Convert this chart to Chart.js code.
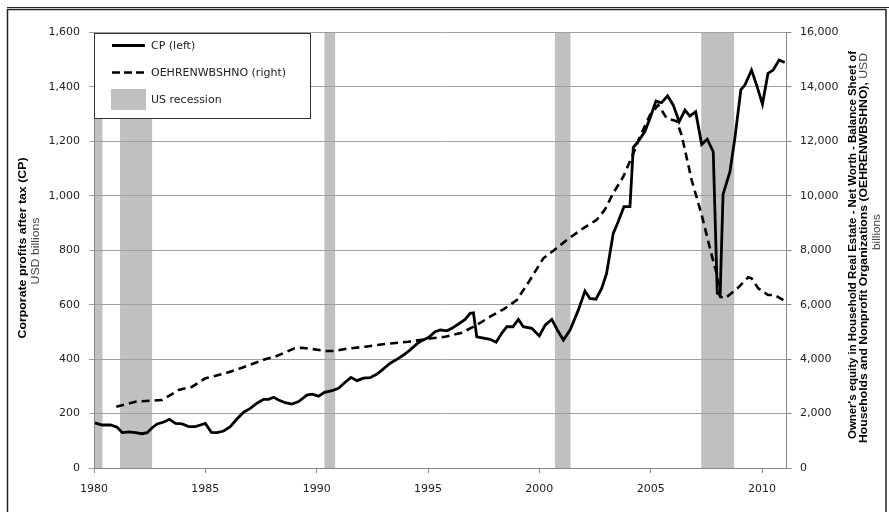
<!DOCTYPE html>
<html>
<head>
<meta charset="utf-8">
<script src="https://cdn.jsdelivr.net/npm/chart.js@4.4.1/dist/chart.umd.min.js"></script>
<style>
	html, body { margin: 0; padding: 0; background: #fff; }
</style>
</head>
<body>
<canvas id="myChart" width="889" height="512"></canvas>
<script>
// CP (left axis), USD billions, roughly quarterly
var cpYears = [1980.04, 1980.37, 1980.74, 1981.04, 1981.27, 1981.56, 1981.86, 1982.16, 1982.39, 1982.61, 1982.84,
	1983.13, 1983.39, 1983.66, 1983.96, 1984.25, 1984.55, 1984.78, 1985.0, 1985.27, 1985.53, 1985.82, 1986.12, 1986.42,
	1986.72, 1987.02, 1987.32, 1987.62, 1987.84, 1988.07, 1988.29, 1988.59, 1988.89, 1989.19, 1989.56, 1989.79, 1990.09,
	1990.35, 1990.69, 1990.98, 1991.28, 1991.54, 1991.81, 1992.1, 1992.4, 1992.71, 1993.0, 1993.3, 1993.6, 1993.9, 1994.2,
	1994.5, 1994.72, 1995.02, 1995.32, 1995.55, 1995.85, 1996.07, 1996.37, 1996.67, 1996.89, 1997.04, 1997.19, 1997.56,
	1997.79, 1998.06, 1998.31, 1998.54, 1998.81, 1999.06, 1999.28, 1999.66, 2000.0, 2000.26, 2000.56, 2000.81, 2001.08,
	2001.38, 2001.75, 2002.05, 2002.27, 2002.54, 2002.8, 2003.02, 2003.32, 2003.54, 2003.8, 2004.07, 2004.22, 2004.44,
	2004.74, 2004.97, 2005.24, 2005.49, 2005.76, 2006.01, 2006.28, 2006.54, 2006.76, 2007.02, 2007.29, 2007.54, 2007.81,
	2007.99, 2008.12, 2008.25, 2008.56, 2008.78, 2009.05, 2009.23, 2009.53, 2009.78, 2010.02, 2010.27, 2010.5, 2010.77,
	2011.02];
var cpValues = [166, 158, 158, 150, 130, 133, 130, 126, 130, 148, 162, 169, 179, 164, 162, 152, 152, 158, 164, 131, 130,
	136, 152, 180, 205, 219, 238, 252, 252, 260, 250, 240, 235, 244, 268, 271, 264, 278, 284, 293, 315, 333, 321, 330, 332,
	345, 364, 385, 399, 415, 434, 456, 468, 479, 501, 507, 504, 513, 529, 546, 568, 570, 482, 476, 473, 462, 495, 519, 519,
	546, 519, 513, 485, 525, 546, 507, 470, 507, 580, 650, 623, 620, 660, 715, 862, 905, 960, 960, 1178, 1200, 1236, 1285,
	1348, 1342, 1367, 1334, 1272, 1315, 1293, 1309, 1189, 1208, 1162, 642, 636, 1005, 1089, 1211, 1389, 1407, 1462, 1401,
	1337, 1450, 1462, 1499, 1490];

// OEHRENWBSHNO (right axis)
var oeYears = [1981.0, 1981.86, 1983.06, 1983.8, 1984.41, 1985.0, 1985.9, 1986.65, 1987.69, 1988.14, 1989.01, 1989.34,
	1989.79, 1990.39, 1990.83, 1991.28, 1992.18, 1993.08, 1994.12, 1995.17, 1995.77, 1996.52, 1997.19, 1997.79, 1998.39,
	1998.99, 1999.58, 2000.18, 2000.63, 2001.23, 2001.97, 2002.57, 2002.95, 2003.32, 2003.77, 2004.22, 2004.52, 2004.97,
	2005.34, 2005.72, 2006.16, 2006.39, 2006.84, 2007.29, 2007.73, 2007.96, 2008.12, 2008.34, 2008.86, 2009.38, 2009.53,
	2009.83, 2010.27, 2010.57, 2011.02];
var oeValues = [2252, 2436, 2498, 2866, 2987, 3295, 3479, 3685, 3994, 4090, 4398, 4420, 4372, 4298, 4298, 4372, 4457,
	4556, 4640, 4765, 4824, 4971, 5254, 5559, 5831, 6172, 6907, 7704, 7984, 8377, 8806, 9113, 9500, 10100, 10700, 11550,
	12172, 12969, 13337, 12848, 12750, 12234, 10581, 9300, 7850, 7153, 6294, 6235, 6570, 7006, 6970, 6602, 6356, 6356, 6135];

// US recession bands
var recessionStart = [1980.0, 1981.17, 1990.35, 2000.7, 2007.27];
var recessionEnd = [1980.38, 1982.61, 1990.83, 2001.4, 2008.75];

var xTickYears = [1980, 1985, 1990, 1995, 2000, 2005, 2010];

var tickFont = { family: "DejaVu Sans", size: 11 };
var bandColor = "#c0c0c0";

// shaded recessions, under the grid lines
var recessionPlugin = {
	id: "recessions",
	beforeDraw: function (chart) {
		const ctx = chart.ctx;
		const area = chart.chartArea;
		const x = chart.scales.x;
		ctx.save();
		ctx.fillStyle = bandColor;
		recessionStart.forEach((s, i) => {
			const x0 = x.getPixelForValue(s);
			const x1 = x.getPixelForValue(recessionEnd[i]);
			ctx.fillRect(x0, area.top, x1 - x0, area.bottom - area.top);
		});
		ctx.restore();
	},
};

function drawRotated(ctx, cx, cy, parts, width) {
	ctx.save();
	let total = 0;
	parts.forEach((p) => {
		ctx.font = p.font;
		p.w = ctx.measureText(p.text).width;
		total += p.w;
	});
	ctx.translate(cx, cy);
	ctx.rotate(-Math.PI / 2);
	ctx.scale(width / total, 1);
	ctx.textBaseline = "middle";
	ctx.textAlign = "left";
	let pos = -total / 2;
	parts.forEach((p) => {
		ctx.font = p.font;
		ctx.fillStyle = p.color;
		ctx.fillText(p.text, pos, 0);
		pos += p.w;
	});
	ctx.restore();
}

// legend box, axis titles, frame
var decorPlugin = {
	id: "decor",
	afterDraw: function (chart) {
		const ctx = chart.ctx;
		const bold = "bold 11px 'Liberation Sans'";
		const normal = "11px 'Liberation Sans'";

		// axis titles
		drawRotated(ctx, 22.5, 248, [{ text: "Corporate profits after tax (CP)", font: bold, color: "#000" }], 181);
		drawRotated(ctx, 36, 251, [{ text: "USD billions", font: normal, color: "#444" }], 67);
		drawRotated(ctx, 852.5, 245,
			[{ text: "Owner's equity in Household Real Estate - Net Worth - Balance Sheet of", font: bold, color: "#000" }], 388);
		drawRotated(ctx, 863.5, 248, [
			{ text: "Households and Nonprofit Organizations (OEHRENWBSHNO),", font: bold, color: "#000" },
			{ text: " USD", font: normal, color: "#444" },
		], 390);
		drawRotated(ctx, 877, 232, [{ text: "billions", font: normal, color: "#444" }], 36);

		// legend
		ctx.save();
		ctx.fillStyle = "#fff";
		ctx.fillRect(94, 33, 216, 85);
		ctx.strokeStyle = "#333";
		ctx.lineWidth = 1;
		ctx.strokeRect(94.5, 33.5, 216, 85);

		ctx.strokeStyle = "#000";
		ctx.lineWidth = 3;
		ctx.beginPath();
		ctx.moveTo(112, 45.5);
		ctx.lineTo(145, 45.5);
		ctx.stroke();

		ctx.setLineDash([8, 4]);
		ctx.lineWidth = 2.5;
		ctx.beginPath();
		ctx.moveTo(112, 72.5);
		ctx.lineTo(145, 72.5);
		ctx.stroke();
		ctx.setLineDash([]);

		ctx.fillStyle = bandColor;
		ctx.fillRect(111, 89, 35, 21);

		ctx.fillStyle = "#222";
		ctx.font = "11px 'DejaVu Sans'";
		ctx.textBaseline = "middle";
		ctx.fillText("CP (left)", 151, 46);
		ctx.fillText("OEHRENWBSHNO (right)", 151, 73);
		ctx.fillText("US recession", 151, 100);

		// outer frame
		ctx.strokeStyle = "#222";
		ctx.lineWidth = 1;
		ctx.beginPath();
		ctx.moveTo(7, 7.5);
		ctx.lineTo(889, 7.5);
		ctx.stroke();
		ctx.lineWidth = 1.5;
		ctx.beginPath();
		ctx.moveTo(7.5, 512);
		ctx.lineTo(7.5, 9.5);
		ctx.lineTo(886, 9.5);
		ctx.lineTo(886, 512);
		ctx.stroke();
		ctx.restore();
	},
};

var ctx = document.getElementById("myChart").getContext("2d");

var chart = new Chart(ctx, {
	type: "line",
	data: {
		datasets: [
			{
				label: "CP (left)",
				data: cpYears.map((x, i) => ({ x: x, y: cpValues[i] })),
				borderColor: "#000",
				borderWidth: 2.8,
				pointRadius: 0,
				tension: 0,
				fill: false,
				yAxisID: "y",
			},
			{
				label: "OEHRENWBSHNO (right)",
				data: oeYears.map((x, i) => ({ x: x, y: oeValues[i] })),
				borderColor: "#000",
				borderWidth: 2.6,
				borderDash: [8, 5],
				pointRadius: 0,
				tension: 0,
				fill: false,
				yAxisID: "y1",
			},
		],
	},
	options: {
		responsive: false,
		animation: false,
		layout: { padding: { top: 32.5, left: 0, right: 0, bottom: 0 } },
		plugins: {
			legend: { display: false },
			tooltip: { enabled: false },
		},
		scales: {
			x: {
				type: "linear",
				min: 1980,
				max: 2011.1,
				afterBuildTicks: (scale) => {
					scale.ticks = xTickYears.map((v) => ({ value: v }));
				},
				afterFit: (scale) => {
					scale.height = 44;
				},
				grid: { drawOnChartArea: false, drawTicks: true, tickLength: 5, color: "#888" },
				border: { color: "#888" },
				ticks: {
					font: tickFont,
					color: "#222",
					padding: 10,
					maxRotation: 0,
					autoSkip: false,
					callback: (v) => String(v),
				},
			},
			y: {
				position: "left",
				min: 0,
				max: 1600,
				afterFit: (scale) => {
					scale.width = 94;
				},
				grid: { color: "#a0a0a0", tickLength: 5 },
				border: { color: "#888" },
				ticks: {
					stepSize: 200,
					font: tickFont,
					color: "#222",
					padding: 9,
					callback: (v) => v.toLocaleString("en-US"),
				},
			},
			y1: {
				position: "right",
				min: 0,
				max: 16000,
				afterFit: (scale) => {
					scale.width = 102.5;
				},
				grid: { drawOnChartArea: false, tickLength: 5, color: "#888" },
				border: { color: "#888" },
				ticks: {
					stepSize: 2000,
					font: tickFont,
					color: "#222",
					padding: 8.5,
					callback: (v) => v.toLocaleString("en-US"),
				},
			},
		},
	},
	plugins: [recessionPlugin, decorPlugin],
});
</script>
</body>
</html>
